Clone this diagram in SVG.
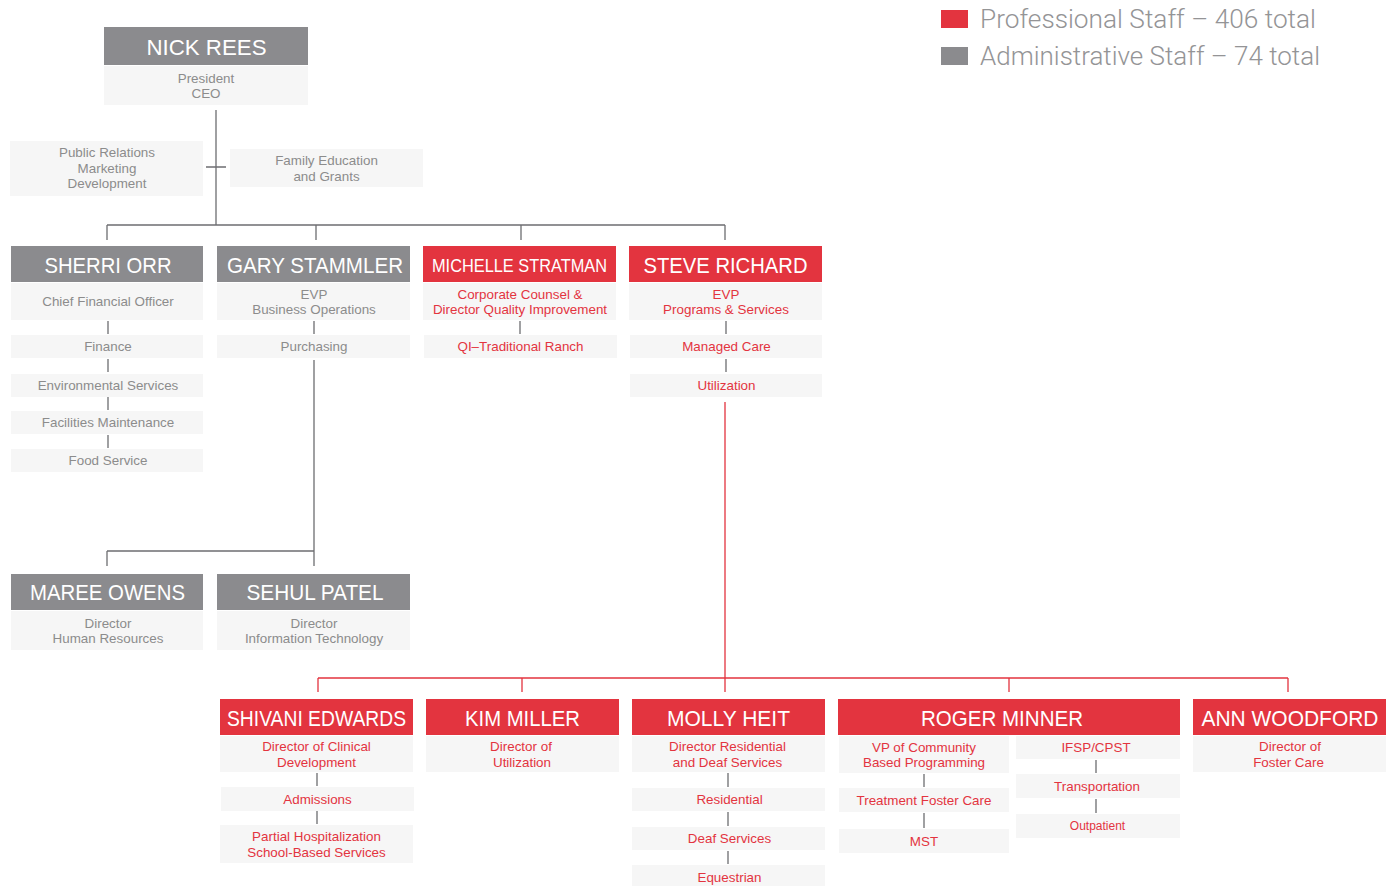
<svg xmlns="http://www.w3.org/2000/svg" width="1389" height="886" viewBox="0 0 1389 886">
<style>
.hg{fill:#8b8b8e}
.hr{fill:#e3343f}
.sb{fill:#f6f6f6}
.nm{font-family:"Liberation Sans",Arial,sans-serif;font-size:22px;fill:#ffffff;text-anchor:middle}
.tx{font-family:"Liberation Sans",Arial,sans-serif;font-size:13.4px;fill:#8c8c8c;text-anchor:middle}
.red{fill:#e3343f}
.lg{font-family:Roboto,"Liberation Sans",Arial,sans-serif;font-weight:300;font-size:26px;fill:#949496}
.cg{stroke:#6d6e71;stroke-width:1.3;fill:none}
.cr{stroke:#e3343f;stroke-width:1.3;fill:none}
</style>
<rect width="1389" height="886" fill="#ffffff"/>

<g id="legend">
<rect x="941" y="10" width="27" height="18" class="hr"/>
<text x="980" y="28" class="lg" textLength="336" lengthAdjust="spacingAndGlyphs">Professional Staff – 406 total</text>
<rect x="941" y="47" width="27" height="18" class="hg"/>
<text x="980" y="65" class="lg" textLength="340" lengthAdjust="spacingAndGlyphs">Administrative Staff – 74 total</text>
</g>

<g id="connectors">
<path class="cg" d="M216 110V225M206 167H226M107 225H725M107 225V240M316 225V240M521 225V240M725 225V240"/>
<path class="cg" d="M108 321V334M108 359V372M108 397V410M108 435V448"/>
<path class="cg" d="M314 321V334M314 360V551M107 551H314M107 551V566M314 551V566"/>
<path class="cg" d="M520 321V334"/>
<path class="cg" d="M726 321V334M726 359V372"/>
<path class="cr" d="M725 402V692M318 678H1288M318 678V692M522 678V692M1009 678V692M1288 678V692"/>
<path class="cg" d="M317 773V786M317 811V824"/>
<path class="cg" d="M728 773V787M728 812V826M728 851V864"/>
<path class="cg" d="M924 774V787M924 813V828"/>
<path class="cg" d="M1096 760V773M1096 799V813"/>
</g>

<g id="nick-rees">
<rect x="104" y="27" width="204" height="38" class="hg"/>
<text x="206.5" y="55" class="nm" textLength="120" lengthAdjust="spacingAndGlyphs">NICK REES</text>
<rect x="104" y="66" width="204" height="39" class="sb"/>
<text x="206" y="82.5" class="tx">President</text>
<text x="206" y="98" class="tx">CEO</text>
</g>

<g id="public-relations">
<rect x="10" y="141" width="193" height="55" class="sb"/>
<text x="107" y="157" class="tx">Public Relations</text>
<text x="107" y="172.5" class="tx">Marketing</text>
<text x="107" y="188" class="tx">Development</text>
</g>

<g id="family-education">
<rect x="230" y="149" width="193" height="38" class="sb"/>
<text x="326.5" y="165" class="tx">Family Education</text>
<text x="326.5" y="180.5" class="tx">and Grants</text>
</g>

<g id="sherri-orr">
<rect x="11" y="246" width="192" height="36" class="hg"/>
<text x="108" y="272.5" class="nm" textLength="127" lengthAdjust="spacingAndGlyphs">SHERRI ORR</text>
<rect x="11" y="283" width="192" height="37" class="sb"/>
<text x="108" y="306" class="tx">Chief Financial Officer</text>
</g>
<g id="finance">
<rect x="11" y="335" width="192" height="23" class="sb"/>
<text x="108" y="351" class="tx">Finance</text>
</g>
<g id="environmental-services">
<rect x="11" y="374" width="192" height="23" class="sb"/>
<text x="108" y="390" class="tx">Environmental Services</text>
</g>
<g id="facilities-maintenance">
<rect x="11" y="411" width="192" height="23" class="sb"/>
<text x="108" y="427" class="tx">Facilities Maintenance</text>
</g>
<g id="food-service">
<rect x="11" y="449" width="192" height="23" class="sb"/>
<text x="108" y="465" class="tx">Food Service</text>
</g>

<g id="gary-stammler">
<rect x="217" y="246" width="193" height="36" class="hg"/>
<text x="315" y="272.5" class="nm" textLength="176" lengthAdjust="spacingAndGlyphs">GARY STAMMLER</text>
<rect x="217" y="283" width="193" height="37" class="sb"/>
<text x="314" y="298.5" class="tx">EVP</text>
<text x="314" y="314" class="tx">Business Operations</text>
</g>
<g id="purchasing">
<rect x="217" y="335" width="193" height="23" class="sb"/>
<text x="314" y="351" class="tx">Purchasing</text>
</g>

<g id="michelle-stratman">
<rect x="423" y="246" width="193" height="36" class="hr"/>
<text x="519.5" y="272" class="nm" style="font-size:19px" textLength="175" lengthAdjust="spacingAndGlyphs">MICHELLE STRATMAN</text>
<rect x="423" y="283" width="193" height="37" class="sb"/>
<text x="520" y="298.5" class="tx red">Corporate Counsel &amp;</text>
<text x="520" y="314" class="tx red">Director Quality Improvement</text>
</g>
<g id="qi-traditional-ranch">
<rect x="424" y="335" width="193" height="23" class="sb"/>
<text x="520.5" y="351" class="tx red">QI–Traditional Ranch</text>
</g>

<g id="steve-richard">
<rect x="629" y="246" width="193" height="36" class="hr"/>
<text x="725.5" y="272.5" class="nm" textLength="164" lengthAdjust="spacingAndGlyphs">STEVE RICHARD</text>
<rect x="629" y="283" width="193" height="37" class="sb"/>
<text x="726" y="298.5" class="tx red">EVP</text>
<text x="726" y="314" class="tx red">Programs &amp; Services</text>
</g>
<g id="managed-care">
<rect x="630" y="335" width="192" height="23" class="sb"/>
<text x="726.5" y="351" class="tx red">Managed Care</text>
</g>
<g id="utilization">
<rect x="630" y="374" width="192" height="23" class="sb"/>
<text x="726.5" y="390" class="tx red">Utilization</text>
</g>

<g id="maree-owens">
<rect x="11" y="574" width="192" height="36" class="hg"/>
<text x="107.5" y="600" class="nm" textLength="155" lengthAdjust="spacingAndGlyphs">MAREE OWENS</text>
<rect x="11" y="611" width="192" height="39" class="sb"/>
<text x="108" y="627.5" class="tx">Director</text>
<text x="108" y="643" class="tx">Human Resources</text>
</g>

<g id="sehul-patel">
<rect x="217" y="574" width="193" height="36" class="hg"/>
<text x="315" y="600" class="nm" textLength="137" lengthAdjust="spacingAndGlyphs">SEHUL PATEL</text>
<rect x="217" y="611" width="193" height="39" class="sb"/>
<text x="314" y="627.5" class="tx">Director</text>
<text x="314" y="643" class="tx">Information Technology</text>
</g>

<g id="shivani-edwards">
<rect x="220" y="699" width="193" height="36" class="hr"/>
<text x="316.5" y="725.5" class="nm" textLength="179" lengthAdjust="spacingAndGlyphs">SHIVANI EDWARDS</text>
<rect x="220" y="736" width="193" height="36" class="sb"/>
<text x="316.5" y="751" class="tx red">Director of Clinical</text>
<text x="316.5" y="766.5" class="tx red">Development</text>
</g>
<g id="admissions">
<rect x="221" y="787" width="193" height="24" class="sb"/>
<text x="317.5" y="803.5" class="tx red">Admissions</text>
</g>
<g id="partial-hospitalization">
<rect x="220" y="825" width="193" height="38" class="sb"/>
<text x="316.5" y="841" class="tx red">Partial Hospitalization</text>
<text x="316.5" y="856.5" class="tx red">School-Based Services</text>
</g>

<g id="kim-miller">
<rect x="426" y="699" width="193" height="36" class="hr"/>
<text x="522.5" y="725.5" class="nm" textLength="115" lengthAdjust="spacingAndGlyphs">KIM MILLER</text>
<rect x="426" y="736" width="193" height="36" class="sb"/>
<text x="521" y="751" class="tx red">Director of</text>
<text x="522" y="766.5" class="tx red">Utilization</text>
</g>

<g id="molly-heit">
<rect x="632" y="699" width="193" height="36" class="hr"/>
<text x="728.5" y="725.5" class="nm" textLength="123" lengthAdjust="spacingAndGlyphs">MOLLY HEIT</text>
<rect x="632" y="736" width="193" height="36" class="sb"/>
<text x="727.5" y="751" class="tx red">Director Residential</text>
<text x="727.5" y="766.5" class="tx red">and Deaf Services</text>
</g>
<g id="residential">
<rect x="632" y="788" width="193" height="23" class="sb"/>
<text x="729.5" y="804" class="tx red">Residential</text>
</g>
<g id="deaf-services">
<rect x="632" y="827" width="193" height="23" class="sb"/>
<text x="729.5" y="843" class="tx red">Deaf Services</text>
</g>
<g id="equestrian">
<rect x="632" y="865" width="193" height="24" class="sb"/>
<text x="729.5" y="881.5" class="tx red">Equestrian</text>
</g>

<g id="roger-minner">
<rect x="838" y="699" width="342" height="36" class="hr"/>
<text x="1002" y="725.5" class="nm" textLength="162" lengthAdjust="spacingAndGlyphs">ROGER MINNER</text>
<rect x="839" y="736" width="170" height="37" class="sb"/>
<text x="924" y="751.5" class="tx red">VP of Community</text>
<text x="924" y="767" class="tx red">Based Programming</text>
</g>
<g id="treatment-foster-care">
<rect x="839" y="788" width="170" height="24" class="sb"/>
<text x="924" y="804.5" class="tx red">Treatment Foster Care</text>
</g>
<g id="mst">
<rect x="839" y="829" width="170" height="24" class="sb"/>
<text x="924" y="845.5" class="tx red">MST</text>
</g>
<g id="ifsp-cpst">
<rect x="1016" y="736" width="164" height="23" class="sb"/>
<text x="1096" y="752" class="tx red">IFSP/CPST</text>
</g>
<g id="transportation">
<rect x="1016" y="774" width="164" height="24" class="sb"/>
<text x="1097" y="790.5" class="tx red">Transportation</text>
</g>
<g id="outpatient">
<rect x="1016" y="814" width="164" height="24" class="sb"/>
<text x="1097.5" y="830" class="tx red" style="font-size:12px">Outpatient</text>
</g>

<g id="ann-woodford">
<rect x="1193" y="699" width="193" height="36" class="hr"/>
<text x="1290" y="725.5" class="nm" textLength="177" lengthAdjust="spacingAndGlyphs">ANN WOODFORD</text>
<rect x="1193" y="736" width="193" height="36" class="sb"/>
<text x="1290" y="751" class="tx red">Director of</text>
<text x="1288.5" y="766.5" class="tx red">Foster Care</text>
</g>
</svg>
